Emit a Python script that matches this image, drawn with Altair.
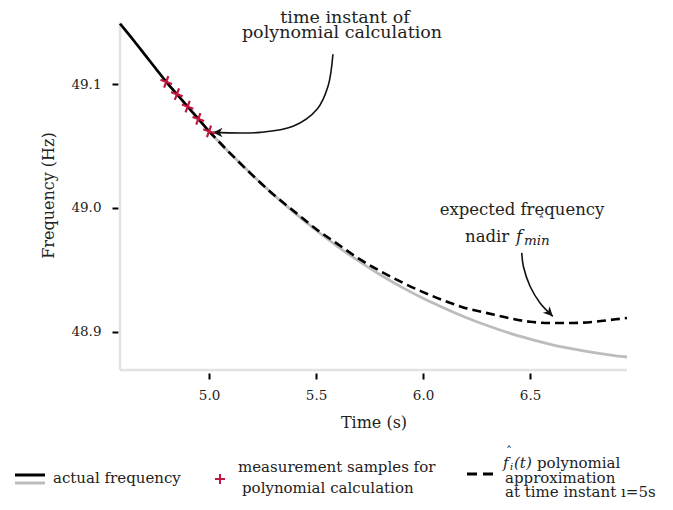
import altair as alt
import pandas as pd

FONT = "DejaVu Serif"

# ---- data ----
t_actual = [4.584, 4.65, 4.7, 4.75, 4.8, 4.85, 4.9, 4.95, 5.0, 5.1, 5.2, 5.3, 5.4, 5.5,
            5.6, 5.7, 5.8, 5.9, 6.0, 6.1, 6.2, 6.3, 6.4, 6.5, 6.6, 6.7, 6.8, 6.9, 6.953]
f_actual = [49.149, 49.135, 49.124, 49.113, 49.102, 49.092, 49.082, 49.072, 49.062, 49.044,
            49.027, 49.011, 48.996, 48.982, 48.969, 48.957, 48.946, 48.936, 48.927, 48.919,
            48.9115, 48.905, 48.899, 48.894, 48.8895, 48.886, 48.883, 48.8805, 48.8795]

t_black = [4.584, 4.65, 4.7, 4.75, 4.8, 4.85, 4.9, 4.95, 5.0]
f_black = [49.149, 49.135, 49.124, 49.113, 49.102, 49.092, 49.082, 49.072, 49.062]

t_poly = [5.0, 5.1, 5.2, 5.3, 5.4, 5.5, 5.6, 5.7, 5.8, 5.9, 6.0, 6.1, 6.2, 6.3, 6.4,
          6.5, 6.6, 6.7, 6.8, 6.9, 6.953]
f_poly = [49.062, 49.044, 49.027, 49.011, 48.997, 48.983, 48.971, 48.959, 48.949, 48.940,
          48.932, 48.925, 48.919, 48.915, 48.911, 48.908, 48.907, 48.907, 48.908, 48.910, 48.911]

t_samples = [4.8, 4.85, 4.9, 4.95, 5.0]
f_samples = [49.102, 49.092, 49.082, 49.072, 49.062]

arrow1_t = [5.579, 5.556, 5.5047, 5.3925, 5.2383, 5.0187]
arrow1_f = [49.1243, 49.0984, 49.0798, 49.0660, 49.0611, 49.0611]
arrow2_t = [6.4612, 6.4687, 6.5, 6.5467, 6.6061]
arrow2_f = [48.9637, 48.9529, 48.9367, 48.9232, 48.9124]

x_ticks = [5.0, 5.5, 6.0, 6.5]
y_ticks = [48.9, 49.0, 49.1]
x_domain = [4.584, 6.953]
y_domain = [48.869, 49.152]

W, H = 507, 350

xs = alt.Scale(domain=x_domain, nice=False, zero=False)
ys = alt.Scale(domain=y_domain, nice=False, zero=False)

xaxis = alt.Axis(values=x_ticks, format=".1f", domain=False, grid=False, tickColor="black",
                 tickWidth=2, tickSize=6, offset=3, labelFont=FONT, labelFontSize=13.5,
                 labelColor="#222", labelPadding=9, title="Time (s)", titleFont=FONT,
                 titleFontSize=16, titleFontWeight="normal", titleColor="#222", titlePadding=13)
yaxis = alt.Axis(values=y_ticks, format=".1f", domain=False, grid=False, tickColor="black",
                 tickWidth=2, tickSize=6, offset=2, labelFont=FONT, labelFontSize=13.5,
                 labelColor="#222", labelPadding=11, title="Frequency (Hz)", titleFont=FONT,
                 titleFontSize=16, titleFontWeight="normal", titleColor="#222", titlePadding=14)

df_actual = pd.DataFrame({"t": t_actual, "f": f_actual})
df_black = pd.DataFrame({"t": t_black, "f": f_black})
df_poly = pd.DataFrame({"t": t_poly, "f": f_poly})
df_samp = pd.DataFrame({"t": t_samples, "f": f_samples})
df_a1 = pd.DataFrame({"t": arrow1_t, "f": arrow1_f, "i": list(range(len(arrow1_t)))})
df_a2 = pd.DataFrame({"t": arrow2_t, "f": arrow2_f, "i": list(range(len(arrow2_t)))})

X = alt.X("t:Q", scale=xs, axis=xaxis)
Y = alt.Y("f:Q", scale=ys, axis=yaxis)
Xn = alt.X("t:Q", scale=xs)
Yn = alt.Y("f:Q", scale=ys)

gray_line = alt.Chart(df_actual).mark_line(color="#bcbcbc", strokeWidth=2.8,
                                           interpolate="monotone").encode(x=X, y=Y)
black_line = alt.Chart(df_black).mark_line(color="black", strokeWidth=2.6,
                                           interpolate="monotone").encode(x=Xn, y=Yn)
poly_line = alt.Chart(df_poly).mark_line(color="black", strokeWidth=2.6, strokeDash=[9, 5],
                                         interpolate="monotone").encode(x=Xn, y=Yn)

CROSS = "M-1,0L1,0M0,-1L0,1"
samples = alt.Chart(df_samp).mark_point(shape=CROSS, size=150, filled=False, color="#c0173f",
                                        strokeWidth=2.2, angle=20, opacity=1).encode(x=Xn, y=Yn)

HEAD = "M0,0L-1,-0.5L-0.7,0L-1,0.5Z"
a1 = alt.Chart(df_a1).mark_line(color="#111", strokeWidth=1.6, interpolate="catmull-rom").encode(
    x=Xn, y=Yn, order="i:O")
a2 = alt.Chart(df_a2).mark_line(color="#111", strokeWidth=1.6, interpolate="catmull-rom").encode(
    x=Xn, y=Yn, order="i:O")
h1 = alt.Chart(df_a1.tail(1)).mark_point(shape=HEAD, size=360, filled=True, color="#111",
                                         angle=180, opacity=1).encode(x=Xn, y=Yn)
h2 = alt.Chart(df_a2.tail(1)).mark_point(shape=HEAD, size=360, filled=True, color="#111",
                                         angle=46, opacity=1).encode(x=Xn, y=Yn)

# gray axis lines
left_rule = alt.Chart().mark_rule(color="#e2e2e2", strokeWidth=2.5).encode(
    x=alt.value(0), y=alt.value(2), y2=alt.value(H))
bottom_rule = alt.Chart().mark_rule(color="#e2e2e2", strokeWidth=2.5).encode(
    x=alt.value(0), x2=alt.value(W), y=alt.value(H))


def txt(s, x, y, size=15, align="left", style="normal", color="#222"):
    return alt.Chart().mark_text(text=s, font=FONT, fontSize=size, align=align, baseline="middle",
                                 fontStyle=style, color=color).encode(
        x=alt.value(x), y=alt.value(y))


texts = [
    txt("time instant of", 225, -2, 17.5, "center"),
    txt("polynomial calculation", 222, 13, 17.5, "center"),
    txt("expected frequency", 402, 190, 16.5, "center"),
    txt("nadir", 345, 217, 16.5),
    txt("f", 396, 217, 16.5, style="italic"),
    txt("min", 404, 221, 13.5, style="italic"),
    txt("\u02c6", 418, 202, 13),
    # legend
    txt("actual frequency", -67, 458, 15),
    txt("measurement samples for", 118, 447, 15),
    txt("polynomial calculation", 122, 468, 15),
    txt("f", 383, 443, 15, style="italic"),
    txt("\u02c6", 386, 432, 12),
    txt("i", 390, 447, 10, style="italic"),
    txt("(t)", 394, 443, 15, style="italic"),
    txt("polynomial", 417, 443, 15),
    txt("approximation", 385, 458, 15),
    txt("at time instant \u0131=5s", 385, 472, 15),
]

leg_black = alt.Chart().mark_rule(color="black", strokeWidth=3).encode(
    x=alt.value(-105), x2=alt.value(-75), y=alt.value(455))
leg_gray = alt.Chart().mark_rule(color="#bcbcbc", strokeWidth=3).encode(
    x=alt.value(-105), x2=alt.value(-75), y=alt.value(463))
leg_cross = alt.Chart().mark_point(shape=CROSS, size=100, filled=False, color="#c0173f",
                                   strokeWidth=2, opacity=1).encode(
    x=alt.value(100), y=alt.value(459))
leg_d1 = alt.Chart().mark_rule(color="black", strokeWidth=3).encode(
    x=alt.value(347), x2=alt.value(357), y=alt.value(454))
leg_d2 = alt.Chart().mark_rule(color="black", strokeWidth=3).encode(
    x=alt.value(363), x2=alt.value(373), y=alt.value(454))

chart = alt.layer(
    gray_line, left_rule, bottom_rule, black_line, poly_line, a1, a2, h1, h2, samples,
    leg_black, leg_gray, leg_cross, leg_d1, leg_d2, *texts
).properties(
    width=W, height=H,
    background="white",
    autosize=alt.AutoSizeParams(type="none"),
    padding={"left": 112, "top": 12, "right": 38, "bottom": 132},
).configure_view(strokeWidth=0, stroke=None)

chart.save("out.html", embed_options={"renderer": "svg", "actions": False})
